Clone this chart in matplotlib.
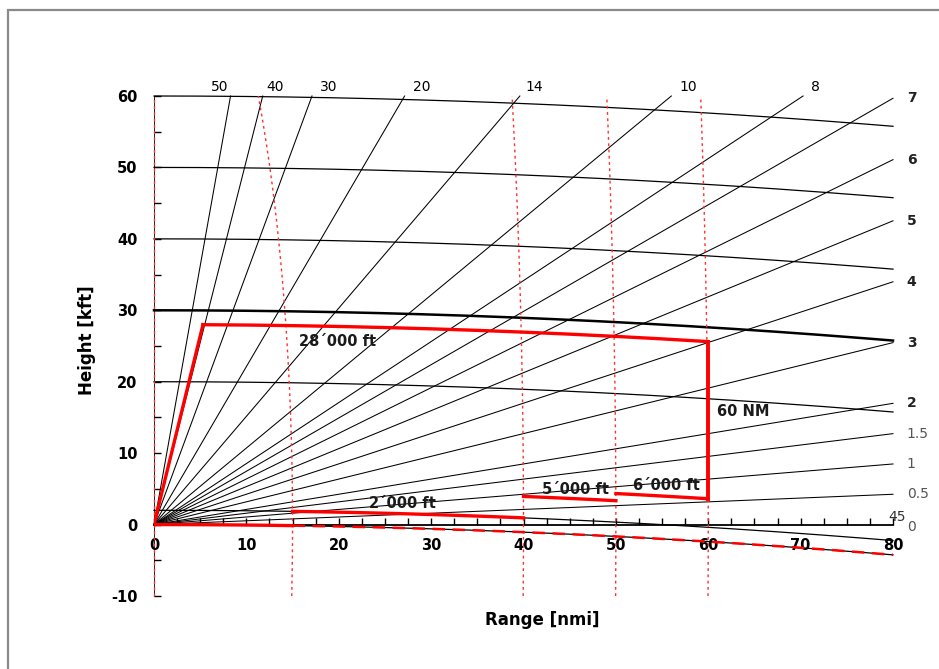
import numpy as np
import matplotlib
matplotlib.use("Agg")
import matplotlib.pyplot as plt
from matplotlib.patches import Rectangle
from matplotlib.ticker import MultipleLocator

plt.rcParams["axes.unicode_minus"] = False

# conversion + 4/3 earth model
NM_TO_KFT = 6.07612
EARTH_R_NM = 3440.065
K_FACTOR = 4.0 / 3.0

# elevation angles in degrees
elev_angles = [0.5, 1, 1.5, 2, 3, 4, 5, 6, 7, 8, 10, 14, 20, 30, 40, 50]
elev_labels = ["0.5", "1", "1.5", "2", "3", "4", "5", "6", "7", "8", "10", "14", "20", "30", "40", "50"]

# constant height curves (kft), 30 kft drawn heavier
height_levels = [0, 2, 20, 30, 40, 50, 60]
heavy_level = 30

# slant range rings (nmi)
range_rings = [15, 40, 50, 60]

# coverage volume
cov_top = 28          # kft
cov_max_range = 60    # nmi
cov_corner_range = 5.3
cov_floor_start = 15
step_start = [15, 40, 50]
step_end = [40, 50, 60]
step_height = [2, 5, 6]

x_max = 80
y_top = 60


def curve(h, r):
    # height above the radar tangent plane for a constant altitude h
    return h - r ** 2 / (2 * K_FACTOR * EARTH_R_NM) * NM_TO_KFT


fig = plt.figure(figsize=(9.39, 6.69), dpi=100)
ax = fig.add_axes([154 / 939, 73 / 669, 739 / 939, 500 / 669])
ax.set_xlim(0, x_max)
ax.set_ylim(-10, 60)

# frame around the figure
fig.add_artist(Rectangle((8 / 939, -0.5), 2, 0.5 + (669 - 10) / 669,
                         transform=fig.transFigure, fill=False,
                         edgecolor="#8a8a8a", lw=1.6))

r = np.linspace(0, x_max, 400)

# height curves
for h in height_levels:
    lw = 1.8 if h == heavy_level else 0.9
    ax.plot(r, curve(h, r), color="black", lw=lw, zorder=2, clip_on=False)

# elevation lines
for a in elev_angles:
    t = np.tan(np.radians(a)) * NM_TO_KFT
    r_end = min(x_max, y_top / t)
    rr = np.linspace(0, r_end, 50)
    ax.plot(rr, rr * t, color="black", lw=0.75, zorder=2, clip_on=False)

# elevation labels
top_pos = {"50": (7.1, 61.2), "40": (13.1, 61.2), "30": (18.9, 61.2),
           "20": (29.0, 61.2), "14": (41.2, 61.2), "10": (57.8, 61.2),
           "8": (71.6, 61.2)}
for a, lab in zip(elev_angles, elev_labels):
    if lab in top_pos:
        x, y = top_pos[lab]
        ax.text(x, y, lab, fontsize=10, ha="center", va="center", clip_on=False)
    else:
        y = x_max * np.tan(np.radians(a)) * NM_TO_KFT
        bold = a >= 2
        ax.text(x_max + 1.5, y, lab, fontsize=10, ha="left", va="center",
                fontweight="bold" if bold else "normal",
                color="#222222" if bold else "#555555", clip_on=False)
ax.text(x_max + 1.5, -0.4, "0", fontsize=10, ha="left", va="center",
        color="#555555", clip_on=False)
ax.text(x_max + 0.4, 1.0, "45", fontsize=10, ha="center", va="center",
        color="#333333", clip_on=False)

# slant range rings (red dotted)
hh = np.linspace(-10, y_top, 200)
ax.plot(np.zeros_like(hh), hh, color="#ff3030", lw=1.0, ls=(0, (2, 2.5)),
        zorder=3, clip_on=False)
for R in range_rings:
    rr = np.sqrt(R ** 2 - (hh / NM_TO_KFT) ** 2)
    ax.plot(rr, hh, color="#ff3030", lw=1.0, ls=(0, (2, 2.5)), zorder=3,
            clip_on=False)

# coverage outline
red = "#ff0000"
lw_red = 2.4
rr = np.linspace(0, cov_floor_start, 50)
ax.plot(rr, curve(0, rr), color=red, lw=lw_red, zorder=4)
rr = np.linspace(cov_floor_start, x_max, 200)
ax.plot(rr, curve(0, rr), color=red, lw=1.8, ls=(0, (5, 3)), zorder=4)
ax.plot([0, cov_corner_range], [0, curve(cov_top, cov_corner_range)],
        color=red, lw=lw_red, zorder=4)
rr = np.linspace(cov_corner_range, cov_max_range, 200)
ax.plot(rr, curve(cov_top, rr), color=red, lw=lw_red, zorder=4)
ax.plot([cov_max_range, cov_max_range],
        [curve(cov_top, cov_max_range), curve(step_height[-1], cov_max_range)],
        color=red, lw=lw_red + 0.4, zorder=4)
for s, e, h in zip(step_start, step_end, step_height):
    rr = np.linspace(s, e, 80)
    ax.plot(rr, curve(h, rr), color=red, lw=lw_red, zorder=4)

# annotations
ann = dict(fontsize=10.5, fontweight="bold", color="#1a1a1a", zorder=5,
           ha="left", va="center")
ax.text(15.7, 25.6, "28\u00b4000 ft", **ann)
ax.text(61.0, 15.8, "60 NM", **ann)
ax.text(23.3, 2.9, "2\u00b4000 ft", **ann)
ax.text(42.0, 4.9, "5\u00b4000 ft", **ann)
ax.text(51.8, 5.5, "6\u00b4000 ft", **ann)

# axes styling
for s in ["top", "right"]:
    ax.spines[s].set_visible(False)
ax.spines["bottom"].set_position(("data", 0))
ax.spines["bottom"].set_linewidth(1.3)
ax.spines["left"].set_linewidth(0.6)
ax.spines["left"].set_bounds(-10, 60)
ax.spines["bottom"].set_bounds(0, x_max)

ax.xaxis.set_major_locator(MultipleLocator(10))
ax.xaxis.set_minor_locator(MultipleLocator(2.5))
ax.yaxis.set_major_locator(MultipleLocator(10))
ax.yaxis.set_minor_locator(MultipleLocator(5))
ax.tick_params(axis="x", which="both", direction="in", length=5, width=1, pad=10)
ax.tick_params(axis="y", which="both", direction="in", length=5, width=1, pad=12)
plt.setp(ax.get_xticklabels() + ax.get_yticklabels(), fontweight="bold",
         fontsize=10.5)

ax.set_xlabel("Range [nmi]", fontsize=12, fontweight="bold")
ax.set_ylabel("Height [kft]", fontsize=12, fontweight="bold")
ax.xaxis.set_label_coords(0.525, -0.03)
ax.yaxis.set_label_coords(-0.078, 0.512)

fig.savefig("out.png", dpi=100)
